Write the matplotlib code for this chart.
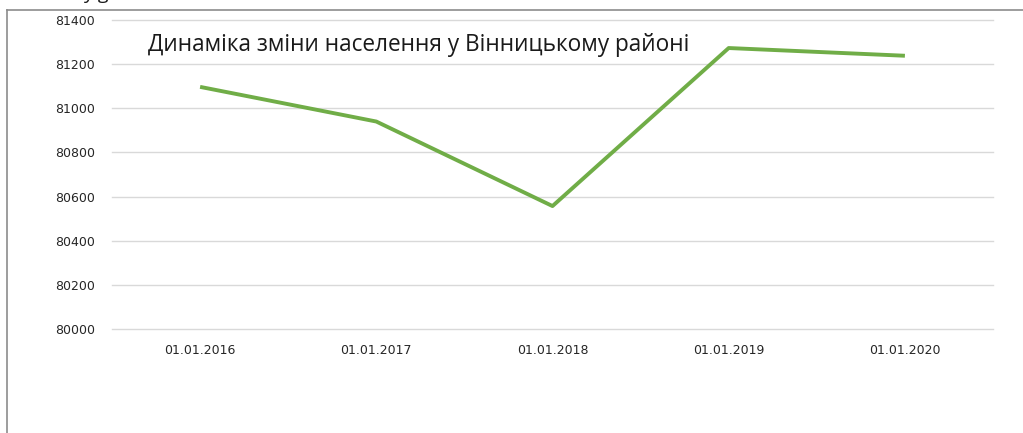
import matplotlib
matplotlib.use("Agg")
import matplotlib.pyplot as plt
from matplotlib.lines import Line2D

dates = ["01.01.2016", "01.01.2017", "01.01.2018", "01.01.2019", "01.01.2020"]
population = [81097, 80940, 80557, 81273, 81238]
yticks = [80000, 80200, 80400, 80600, 80800, 81000, 81200, 81400]
title = "Динаміка зміни населення у Вінницькому районі"

W, H = 1023, 433
fig = plt.figure(figsize=(W / 100, H / 100), dpi=100)
fig.patch.set_facecolor("white")

# outer chart border (left and top visible)
fig.add_artist(Line2D([7 / W, 7 / W], [0, 1 - 10 / H], transform=fig.transFigure, color="#8c8c8c", lw=1.2))
fig.add_artist(Line2D([7 / W, 1], [1 - 10 / H, 1 - 10 / H], transform=fig.transFigure, color="#8c8c8c", lw=1.2))

# cut-off text fragment from the surrounding document (only descenders visible)
fig.text(83 / W, 1 + 1 / H, "у g", fontsize=14, family="Open Sans", color="#1a1a1a", va="baseline", ha="left")

left, right = 112 / W, 993 / W
bottom, top = (H - 329) / H, (H - 20) / H
ax = fig.add_axes([left, bottom, right - left, top - bottom])
x = list(range(len(dates)))
ax.plot(x, population, color="#70AD47", lw=2.8, solid_capstyle="butt", zorder=3)
ax.set_xlim(-0.5, len(dates) - 0.5)
ax.set_ylim(80000, 81400)
ax.set_yticks(yticks)
ax.set_yticklabels([str(v) for v in yticks])
ax.set_xticks(x)
ax.set_xticklabels(dates)
for s in ax.spines.values():
    s.set_visible(False)
ax.grid(axis="y", color="#d9d9d9", lw=1)
for gl in ax.get_ygridlines():
    gl.set_clip_on(False)
ax.set_axisbelow(True)
ax.tick_params(length=0, labelsize=9, colors="#404040", labelcolor="#262626")
ax.tick_params(axis="y", pad=41)
ax.tick_params(axis="x", pad=11)
for lbl in ax.get_yticklabels():
    lbl.set_horizontalalignment("left")

fig.text(148 / W, 1 - 45 / H, title, fontsize=16.3, family="Open Sans", color="#1a1a1a", va="center", ha="left")

fig.savefig("out.png", dpi=100)
